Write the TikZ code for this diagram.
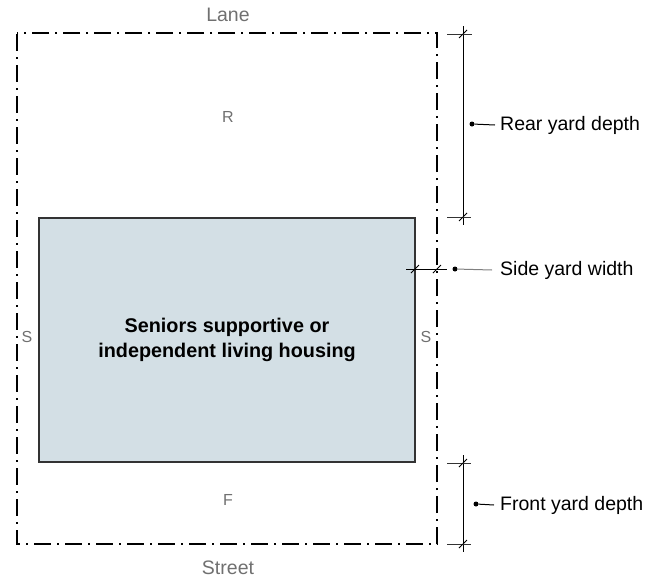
\documentclass[tikz,border=0pt]{standalone}
\usepackage{fontspec}
\setmainfont{Liberation Sans}
\usetikzlibrary{calc}
\definecolor{lbl}{HTML}{707070}
\definecolor{bfill}{HTML}{D3DFE5}
\definecolor{bdraw}{HTML}{333333}
\begin{document}
\begin{tikzpicture}[x=1pt,y=-1pt,
  boundary/.style={line width=2.5pt, dash pattern=on 17pt off 6pt on 2pt off 6pt, dash phase=-1pt},
  building/.style={draw=bdraw, line width=1.2pt, fill=bfill, minimum width=376pt, minimum height=244pt, inner sep=0pt, align=center, font=\bfseries\fontsize{19.8}{25}\selectfont},
  biglbl/.style={text=lbl, font=\fontsize{19.5}{22}\selectfont, inner sep=0pt},
  smalllbl/.style={text=lbl, font=\fontsize{16}{18}\selectfont, inner sep=0pt},
  dimlbl/.style={text=black, font=\fontsize{19.5}{22}\selectfont, inner sep=0pt, anchor=west},
  dimline/.style={line width=0.9pt, black},
  extline/.style={line width=0.9pt, black!80},
  tick/.style={line width=0.8pt, black},
  leader/.style={line width=1pt, black},
  dotmark/.style={circle, fill=black, inner sep=0pt, minimum size=5pt}
]
\useasboundingbox (0,0) rectangle (661,579);
% boundary
\coordinate (bTL) at (17,33);
\coordinate (bBR) at (437,544);
\draw[boundary] (bTL) rectangle (bBR);
% building
\node[building] (bldg) at (227,340) {Seniors supportive or\\independent living housing};
% labels
\node[biglbl] (lane) at (228,15) {Lane};
\node[biglbl] (street) at (228,568) {Street};
\node[smalllbl] (rlbl) at (228,117) {R};
\node[smalllbl] (flbl) at (228,500) {F};
\node[smalllbl] (sl) at (27,337) {S};
\node[smalllbl] (sr) at (426,337) {S};
% rear yard dimension
\coordinate (rTop) at (463,34);
\coordinate (rBot) at (463,217);
\draw[dimline] (463,26) -- (463,225);
\draw[extline] (447,34) -- (472,34);
\draw[extline] (447,217) -- (471,217);
\draw[tick] ($(rTop)+(-4,4)$) -- ($(rTop)+(4,-4)$);
\draw[tick] ($(rBot)+(-4,4)$) -- ($(rBot)+(4,-4)$);
\node[dotmark] (dR) at (472,124) {};
\node[dimlbl] (rearlbl) at (500,125) {Rear yard depth};
\draw[leader] (dR) -- ($(rearlbl.west)+(-5,0)$);
% side yard dimension
\coordinate (sA) at (415,269);
\coordinate (sB) at (437,269);
\draw[dimline] (406,269) -- (447,269);
\draw[tick] ($(sA)+(-4,4)$) -- ($(sA)+(4,-4)$);
\draw[tick] ($(sB)+(-4,4)$) -- ($(sB)+(4,-4)$);
\node[dotmark] (dS) at (455,269) {};
\node[dimlbl] (sidelbl) at (500,270) {Side yard width};
\draw[leader, draw=gray] (dS) -- ($(sidelbl.west)+(-8,0)$);
% front yard dimension
\coordinate (fTop) at (463,463);
\coordinate (fBot) at (463,544);
\draw[dimline] (463,455) -- (463,552);
\draw[extline] (447,463) -- (471,463);
\draw[extline] (447,544) -- (471,544);
\draw[tick] ($(fTop)+(-4,4)$) -- ($(fTop)+(4,-4)$);
\draw[tick] ($(fBot)+(-4,4)$) -- ($(fBot)+(4,-4)$);
\node[dotmark] (dF) at (476,504) {};
\node[dimlbl] (frontlbl) at (500,505) {Front yard depth};
\draw[leader] (dF) -- ($(frontlbl.west)+(-6,0)$);
\end{tikzpicture}
\end{document}
